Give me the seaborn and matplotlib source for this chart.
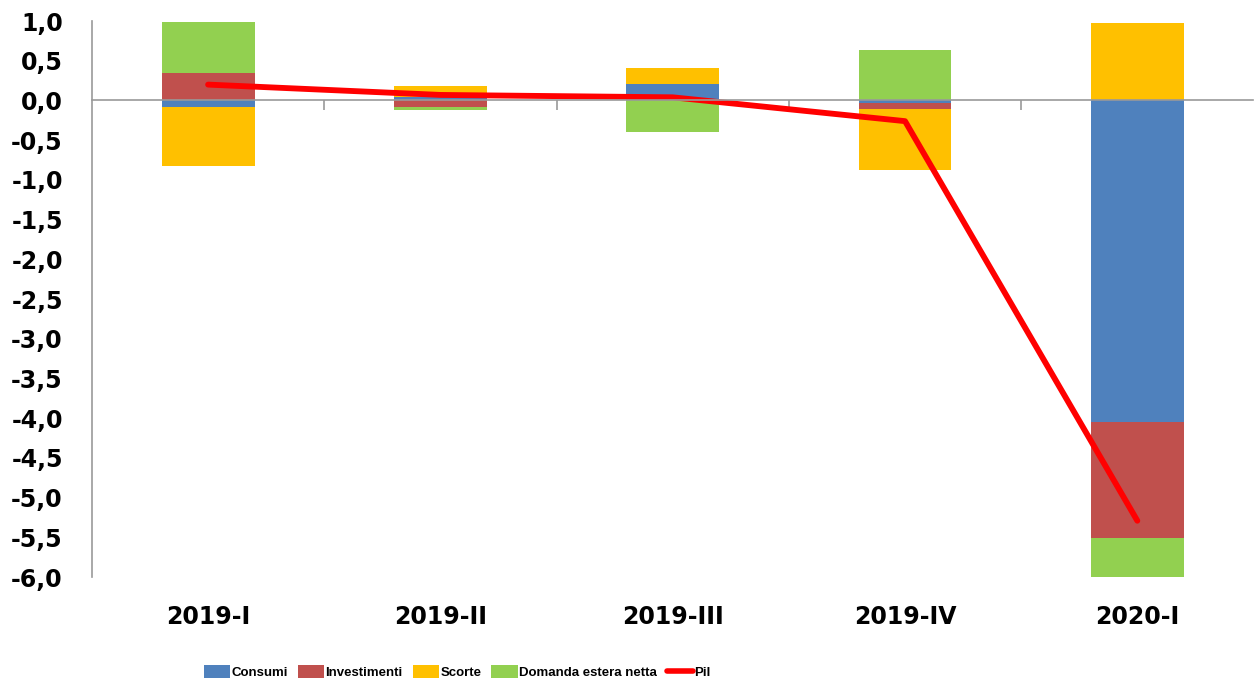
import numpy as np
import pandas as pd
import matplotlib
matplotlib.use('Agg')
import matplotlib.pyplot as plt
from matplotlib.patches import Patch
from matplotlib.lines import Line2D
from matplotlib.ticker import FuncFormatter, FixedLocator
import seaborn as sns

# dati: contributi alla crescita del Pil (punti percentuali)
quarters = ['2019-I', '2019-II', '2019-III', '2019-IV', '2020-I']
consumi = [-0.08, 0.04, 0.21, -0.03, -4.05]
investimenti = [0.35, -0.08, 0.0, -0.08, -1.46]
scorte = [-0.74, 0.14, 0.20, -0.77, 0.98]
domanda_estera = [0.64, -0.04, -0.40, 0.63, -0.49]
pil = [0.20, 0.07, 0.04, -0.26, -5.29]

series_names = ['Consumi', 'Investimenti', 'Scorte', 'Domanda estera netta']
series_colors = ['#4F81BD', '#C0504D', '#FFC000', '#92D050']

sns.set_theme(style='white')
plt.rcParams['font.family'] = ['DejaVu Sans']
plt.rcParams['axes.unicode_minus'] = False
plt.rcParams['text.color'] = 'black'
plt.rcParams['xtick.color'] = 'black'
plt.rcParams['ytick.color'] = 'black'

fig = plt.figure(figsize=(12.56, 6.79), dpi=100)
ax = fig.add_axes([0.0732, 0.150, 0.9248, 0.819])

values = np.array([consumi, investimenti, scorte, domanda_estera])
pos = np.where(values > 0, values, 0).cumsum(axis=0)
neg = np.where(values < 0, values, 0).cumsum(axis=0)

# barre impilate: disegno le somme cumulate dall'ultima serie alla prima
for i in range(len(series_names) - 1, -1, -1):
    for cum in (pos, neg):
        df = pd.DataFrame({'trimestre': quarters, 'valore': cum[i]})
        sns.barplot(data=df, x='trimestre', y='valore', color=series_colors[i],
                    saturation=1, width=0.4, ax=ax, linewidth=0, errorbar=None)

# linea del Pil
df_pil = pd.DataFrame({'trimestre': quarters, 'pil': pil})
sns.lineplot(data=df_pil, x='trimestre', y='pil', sort=False, color='#FF0000',
             linewidth=4.2, ax=ax, solid_capstyle='round')

ax.set_xlim(-0.5, len(quarters) - 0.5)
ax.set_ylim(-6.0, 1.0)
ax.set_yticks(np.arange(-6.0, 1.01, 0.5))
ax.yaxis.set_major_formatter(FuncFormatter(lambda v, p: f'{v:.1f}'.replace('.', ',')))
ax.tick_params(axis='y', length=0, pad=21, labelsize=17, labelcolor='black')
for lab in ax.get_yticklabels():
    lab.set_fontweight('bold')
ax.set_xlabel('')
ax.set_ylabel('')

# asse orizzontale sullo zero con tacche tra le categorie
for s in ['top', 'right']:
    ax.spines[s].set_visible(False)
ax.spines['left'].set_color('#999999')
ax.spines['left'].set_linewidth(1.2)
ax.spines['bottom'].set_position(('data', 0))
ax.spines['bottom'].set_color('#999999')
ax.spines['bottom'].set_linewidth(1.2)
ax.xaxis.set_minor_locator(FixedLocator(np.arange(0.5, len(quarters) - 0.5, 1)))
ax.tick_params(axis='x', which='minor', length=7, width=1.2, color='#999999',
               direction='out', bottom=True)
ax.tick_params(axis='x', which='major', length=0, labelbottom=False)

sec = ax.secondary_xaxis('bottom')
sec.set_xticks(range(len(quarters)))
sec.set_xticklabels(quarters, fontsize=17, fontweight='bold', color='black')
sec.tick_params(length=0, pad=20)
for s in sec.spines.values():
    s.set_visible(False)

handles = [Patch(facecolor=c, edgecolor='none') for c in series_colors]
handles.append(Line2D([0], [0], color='#FF0000', linewidth=4))
leg = fig.legend(handles, series_names + ['Pil'], loc='center',
                 bbox_to_anchor=(0.364, 0.010), ncol=5, frameon=False,
                 prop={'family': ['Liberation Sans', 'DejaVu Sans'],
                       'weight': 'bold', 'size': 9.5},
                 handlelength=2.0, handleheight=1.1, handletextpad=0.1,
                 columnspacing=0.75)
for t in leg.get_texts():
    t.set_color('black')

fig.savefig('out.png', dpi=100)
